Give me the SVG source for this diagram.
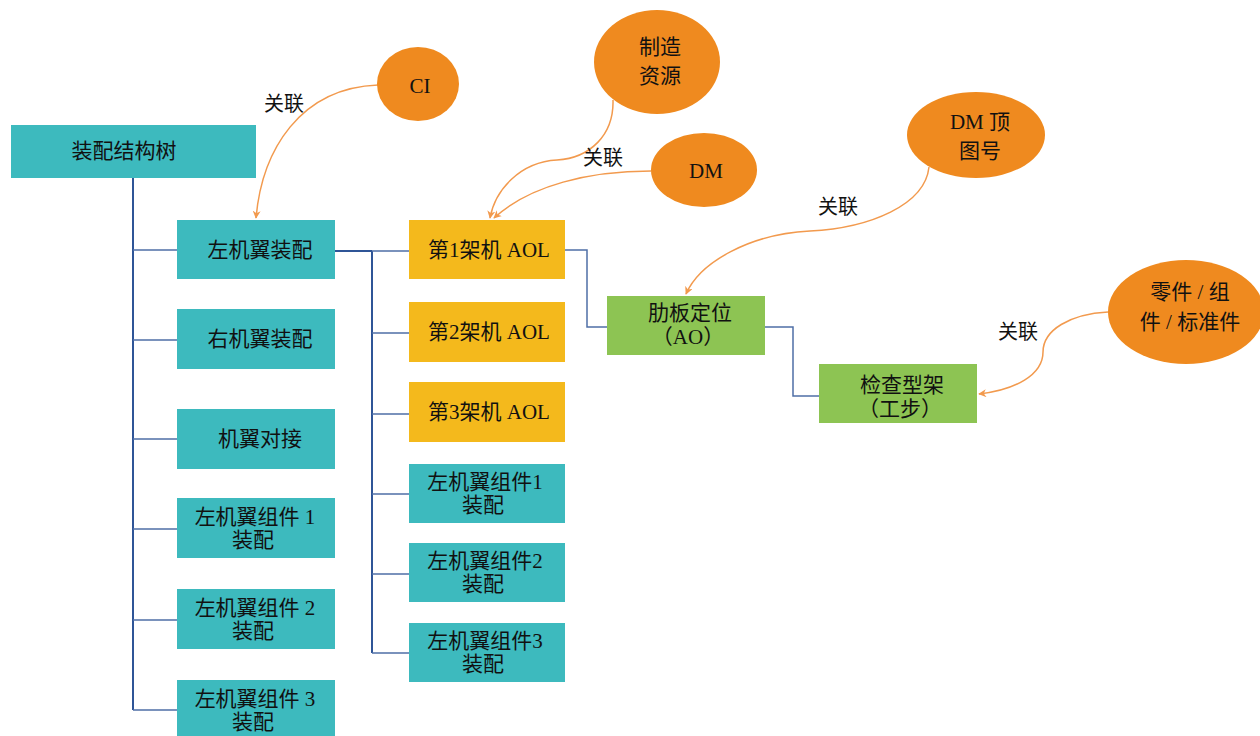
<svg xmlns="http://www.w3.org/2000/svg" width="1260" height="736" viewBox="0 0 1260 736">
<defs>
<style>
.teal{fill:#3DBABE}
.gold{fill:#F4B91C}
.green{fill:#8DC453}
.orange{fill:#EF8A1F}
text{font-family:"Liberation Serif","Noto Sans CJK SC",serif;font-size:21px;fill:#111;text-anchor:middle;dominant-baseline:central}
.lbl{font-size:20px}
.trunk{fill:none;stroke:#2F5597;stroke-width:2}
.branch{fill:none;stroke:#4F6FA6;stroke-width:1.5}
.rel{fill:none;stroke:#F29A4E;stroke-width:1.5;marker-end:url(#arr)}
</style>
<marker id="arr" viewBox="0 0 10 10" refX="9" refY="5" markerWidth="8" markerHeight="8" markerUnits="userSpaceOnUse" orient="auto">
<path d="M0,0 L10,5 L0,10 L3,5 z" fill="#F29A4E"/>
</marker>
</defs>
<rect width="1260" height="736" fill="#fff"/>

<g id="connectors">
<path class="trunk" d="M133,178 V710"/>
<path class="branch" d="M133,250 H177 M133,340 H177 M133,439 H177 M133,529 H177 M133,620 H177 M133,710 H177"/>
<path class="trunk" d="M335,251 H372 M372,251 V653"/>
<path class="branch" d="M372,251 H409 M372,333 H409 M372,414 H409 M372,494 H409 M372,574 H409 M372,653 H409"/>
<path class="branch" d="M565,250 H587 V327 H607"/>
<path class="branch" d="M765,327 H793 V396 H819"/>
<path class="rel" d="M378,85 C300,88 262,150 256,218"/>
<path class="rel" d="M613,100 C614,135 590,158 557,160 C520,162 495,190 490,218"/>
<path class="rel" d="M651,171 C590,171 530,185 494,218"/>
<path class="rel" d="M929,167 C925,205 870,228 810,231 C750,234 700,262 686,294"/>
<path class="rel" d="M1108,312 C1070,314 1043,330 1043,352 C1043,375 1015,390 979,394"/>
<text class="lbl" x="284" y="104">关联</text>
<text class="lbl" x="603" y="158">关联</text>
<text class="lbl" x="838" y="207">关联</text>
<text class="lbl" x="1018" y="332">关联</text>
</g>

<g id="root"><rect class="teal" x="11" y="125" width="245" height="53"/><text x="124" y="151">装配结构树</text></g>
<g id="left-wing"><rect class="teal" x="177" y="220" width="158" height="59"/><text x="260" y="250">左机翼装配</text></g>
<g id="right-wing"><rect class="teal" x="177" y="309" width="158" height="60"/><text x="260" y="339">右机翼装配</text></g>
<g id="wing-join"><rect class="teal" x="177" y="409" width="158" height="60"/><text x="260" y="439">机翼对接</text></g>
<g id="lw-comp1"><rect class="teal" x="177" y="498" width="158" height="60"/><text x="255" y="517">左机翼组件 1</text><text x="253" y="540">装配</text></g>
<g id="lw-comp2"><rect class="teal" x="177" y="589" width="158" height="60"/><text x="255" y="608">左机翼组件 2</text><text x="253" y="631">装配</text></g>
<g id="lw-comp3"><rect class="teal" x="177" y="680" width="158" height="60"/><text x="255" y="699">左机翼组件 3</text><text x="253" y="722">装配</text></g>

<g id="aol1"><rect class="gold" x="409" y="220" width="156" height="59"/><text x="489" y="250">第1架机 AOL</text></g>
<g id="aol2"><rect class="gold" x="409" y="302" width="156" height="60"/><text x="489" y="332">第2架机 AOL</text></g>
<g id="aol3"><rect class="gold" x="409" y="382" width="156" height="60"/><text x="489" y="412">第3架机 AOL</text></g>
<g id="sub-comp1"><rect class="teal" x="409" y="464" width="156" height="59"/><text x="485" y="482">左机翼组件1</text><text x="483" y="505">装配</text></g>
<g id="sub-comp2"><rect class="teal" x="409" y="543" width="156" height="59"/><text x="485" y="561">左机翼组件2</text><text x="483" y="584">装配</text></g>
<g id="sub-comp3"><rect class="teal" x="409" y="623" width="156" height="59"/><text x="485" y="641">左机翼组件3</text><text x="483" y="664">装配</text></g>

<g id="ao"><rect class="green" x="607" y="296" width="158" height="59"/><text x="690" y="313">肋板定位</text><text x="688" y="337">（AO）</text></g>
<g id="step"><rect class="green" x="819" y="364" width="158" height="59"/><text x="902" y="385">检查型架</text><text x="900" y="409">（工步）</text></g>

<g id="ci"><ellipse class="orange" cx="418" cy="84" rx="41" ry="37"/><text x="420" y="86">CI</text></g>
<g id="resource"><ellipse class="orange" cx="657" cy="62" rx="63" ry="52"/><text x="660" y="47">制造</text><text x="660" y="76">资源</text></g>
<g id="dm"><ellipse class="orange" cx="704" cy="170" rx="53" ry="37"/><text x="706" y="171">DM</text></g>
<g id="dm-top"><ellipse class="orange" cx="976" cy="135" rx="69" ry="43"/><text x="980" y="122">DM 顶</text><text x="980" y="151">图号</text></g>
<g id="parts"><ellipse class="orange" cx="1186" cy="312" rx="78" ry="52"/><text x="1190" y="292">零件 / 组</text><text x="1190" y="322">件 / 标准件</text></g>
</svg>
